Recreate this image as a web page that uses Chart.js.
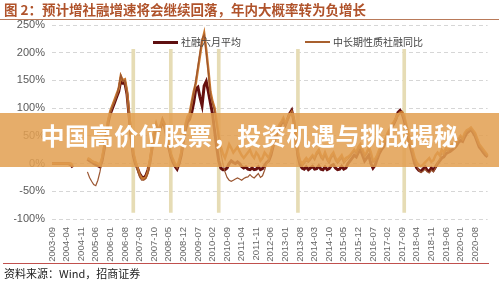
<!DOCTYPE html>
<html>
<head>
<meta charset="utf-8">
<script src="https://cdn.jsdelivr.net/npm/chart.js@4/dist/chart.umd.min.js"></script>
<style>
  body { margin:0; width:499px; height:282px; background:#fff; position:relative; overflow:hidden;
         font-family:"Noto Sans CJK SC","Liberation Sans",sans-serif; }
  #c { position:absolute; left:0; top:0; }
  .abs { position:absolute; white-space:nowrap; }
  #title { left:4px; top:0px; font-size:13.5px; font-weight:bold; color:#b0532b; line-height:18px; }
  #topline { left:0; top:19px; width:499px; height:1px; background:#b97a5a; }
  #botline { left:3px; top:263px; width:486px; height:1px; background:#c0504d; }
  #source { left:4px; top:265px; font-size:11px; color:#222; line-height:16px; }
  .sw { position:absolute; width:25px; }
  .lg { font-size:10px; color:#444; line-height:12px; }
  #banner { left:0; top:113px; width:499px; height:54px; background:rgba(226,160,82,0.86); }
  #bannertext { left:0; top:123px; width:499px; text-align:center; font-size:24px; line-height:24px;
                font-weight:bold; color:#fff; letter-spacing:0.6px; }
</style>
</head>
<body>
<canvas id="c" width="499" height="282"></canvas>
<div class="abs" id="title">图 2：预计增社融增速将会继续回落，年内大概率转为负增长</div>
<div class="abs" id="topline"></div>
<div class="sw" style="left:153px;top:41px;height:3px;background:#5e0f10"></div>
<div class="abs lg" style="left:181px;top:36px">社融六月平均</div>
<div class="sw" style="left:305px;top:41px;height:2px;background:#a8602e"></div>
<div class="abs lg" style="left:333px;top:36px">中长期性质社融同比</div>
<div class="abs" id="banner"></div>
<div class="abs" id="bannertext">中国高价位股票，投资机遇与挑战揭秘</div>
<div class="abs" id="botline"></div>
<div class="abs" id="source">资料来源：Wind，招商证券</div>
<script>
// months 2003-09 .. 2021-02
const months = [];
for (let i = 0; i < 210; i++) {
    const m = 8 + i;
    const y = 2003 + Math.floor(m / 12);
    months.push(y + '-' + String(m % 12 + 1).padStart(2, '0'));
}

const yTicks = [-100, -50, 0, 50, 100, 150, 200, 250];

const shadeMonths = ['2006-12', '2008-06', '2010-05', '2013-07', '2017-10'];

const avg6m = [
    0,0,0,0,0,0,0,0,0,-2,-7,
    null,null,null,null,null,null,
    8,5,3,0,-2,-4,-6,
    5,25,50,75,90,100,110,120,130,150,145,145,125,85,45,15,0,
    -8,-18,-24,-26,-22,-12,
    3,28,52,68,58,65,76,68,50,30,14,3,-5,-10,
    0,15,40,60,75,80,92,110,
    135,138,120,105,140,148,130,110,90,60,30,5,-8,-11,-11,
    -8,0,5,2,0,3,0,-5,-8,-6,-10,-11,-8,-11,-10,-6,-11,-9,
    -3,2,5,15,30,45,55,65,72,78,70,80,90,96,78,45,15,-2,
    -8,-10,-6,-11,-8,-5,-10,-9,-4,-10,-11,-6,-11,-9,-4,-2,-8,-11,-10,-5,-10,-8,
    0,5,10,15,12,20,25,15,5,10,15,0,-8,-3,
    8,18,25,30,40,50,58,66,72,80,92,96,90,78,62,45,30,15,0,
    -8,-12,-14,-10,-6,-12,-14,-8,-12,-6,
    0,5,10,12,18,20,22,25,28,32,38,42,40,48,55,58,62,56,50,40,30,25,20,15,12
];

const midLong = [
    0,0,0,0,0,0,0,0,0,0,-3,
    null,null,null,null,null,null,
    10,8,5,3,2,0,-2,
    10,30,55,80,95,105,115,125,135,158,150,152,130,90,50,20,5,
    -8,-20,-26,-28,-25,-15,
    5,30,55,72,60,68,80,72,55,35,18,8,0,-5,
    5,20,45,70,85,90,110,130,
    145,170,195,220,235,205,170,130,112,100,75,50,30,18,10,
    22,35,28,20,25,30,22,15,10,15,20,25,15,10,20,15,5,10,
    20,15,10,20,35,50,60,70,75,82,72,80,88,93,80,50,20,5,
    0,5,10,5,10,15,10,20,25,15,10,20,10,5,15,20,10,5,10,15,5,10,
    12,15,20,25,20,30,35,25,15,20,30,20,5,8,
    15,25,30,35,45,55,62,70,75,82,88,92,93,85,70,55,40,25,10,
    2,-3,-5,-2,2,6,10,3,6,15,
    20,15,25,20,28,25,30,35,30,40,45,50,45,55,60,62,65,60,55,45,35,30,25,20,15
];

const stockYoy = [
    null,null,null,null,null,null,null,null,null,null,null,
    null,null,null,null,null,null,
    -15,-25,-32,-38,-40,-30,-15,
    5,28,52,78,92,102,112,122,138,160,148,150,128,88,48,18,0,
    -12,-24,-30,-30,-27,-18,
    2,28,52,70,58,66,82,70,52,32,15,5,-3,-8,
    2,18,42,68,82,88,108,128,
    150,175,200,225,232,200,165,125,108,95,70,45,20,0,-15,
    -25,-30,-32,-30,-28,-26,-28,-30,-27,-25,-24,-20,-24,-26,-22,-18,-25,-22,
    -12,0,5,18,32,48,58,68,74,80,70,78,86,92,78,48,18,2,
    -5,0,5,2,6,12,6,15,20,10,6,15,5,0,10,15,5,0,5,10,0,5,
    8,12,18,22,18,26,30,22,12,18,25,15,2,5,
    12,22,28,32,42,52,60,68,73,80,86,90,90,82,68,52,36,20,5,
    -5,-12,-16,-14,-10,-15,-17,-12,-15,-8,
    2,8,18,16,24,22,28,32,28,36,42,48,44,52,58,60,63,58,52,42,33,28,22,18,14
];

const shade = months.map(m => shadeMonths.includes(m) ? [-88, 206] : null);

new Chart(document.getElementById('c'), {
    data: {
        labels: months,
        datasets: [
            {
                type: 'bar',
                data: shade,
                backgroundColor: '#e6dcb5',
                barThickness: 3,
                order: 10
            },
            {
                type: 'line',
                label: '社融六月平均',
                data: avg6m,
                borderColor: '#66100f',
                borderWidth: 3,
                pointRadius: 0,
                tension: 0,
                order: 5
            },
            {
                type: 'line',
                label: '中长期性质社融同比',
                data: midLong,
                borderColor: '#c9782f',
                borderWidth: 2.5,
                pointRadius: 0,
                tension: 0,
                order: 3
            },
            {
                type: 'line',
                label: '社融存量同比',
                data: stockYoy,
                borderColor: '#9a5530',
                borderWidth: 1.2,
                pointRadius: 0,
                tension: 0,
                order: 1
            }
        ]
    },
    options: {
        responsive: false,
        animation: false,
        devicePixelRatio: 1,
        layout: { padding: { left: 14, right: 5, top: 25, bottom: 17 } },
        plugins: { legend: { display: false }, tooltip: { enabled: false } },
        scales: {
            x: {
                type: 'category',
                offset: false,
                afterFit: axis => { axis.height = 46; },
                grid: { display: false },
                border: { display: false },
                ticks: {
                    autoSkip: false,
                    minRotation: 90,
                    maxRotation: 90,
                    padding: 0,
                    color: '#666',
                    font: { family: "'Liberation Sans', Arial", size: 9.5 },
                    callback: function (v, i) { return i % 7 === 0 ? months[i] : ''; }
                }
            },
            y: {
                min: -100,
                max: 250,
                afterFit: axis => { axis.width = 38; },
                afterBuildTicks: axis => { axis.ticks = yTicks.map(v => ({ value: v })); },
                grid: { color: '#d6d6d6', drawTicks: false },
                border: { display: false, dash: [4, 3] },
                ticks: {
                    padding: 7,
                    color: '#595959',
                    font: { family: "'Liberation Sans', Arial", size: 11 },
                    callback: v => v + '%'
                }
            }
        }
    }
});
</script>
</body>
</html>
